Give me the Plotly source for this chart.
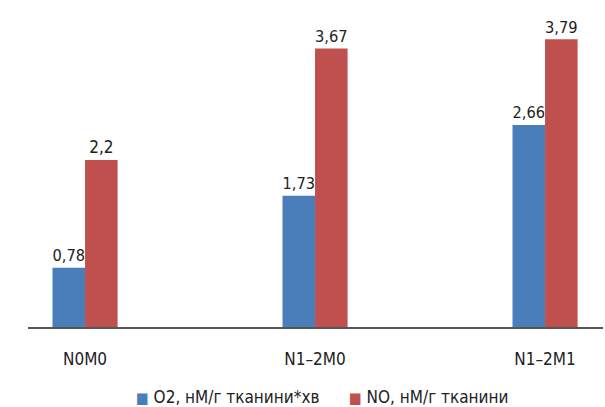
import plotly.graph_objects as go

categories = ["N0M0", "N1\u20132M0", "N1\u20132M1"]
o2_values = [0.78, 1.73, 2.66]
no_values = [2.2, 3.67, 3.79]
series_names = ["O2, нМ/г тканини*хв", "NO, нМ/г тканини"]
colors = ["#4a7ebb", "#c0504d"]

xpos = list(range(len(categories)))
font_family = "DejaVu Sans Condensed, Liberation Sans Narrow, Roboto, sans-serif"

def fmt(v):
    return f"{v:g}".replace(".", ",")

fig = go.Figure()
for vals, name, col in [(o2_values, series_names[0], colors[0]), (no_values, series_names[1], colors[1])]:
    fig.add_trace(go.Bar(x=xpos, y=vals, name=name, marker_color=col, marker_line_width=0,
                         text=[fmt(v) for v in vals], textposition="outside",
                         textfont=dict(size=17, color="#222222", family=font_family),
                         cliponaxis=False, showlegend=False))

# legend drawn as text items below the chart
legend_x = [0.185, 0.555]
for name, col, lx in zip(series_names, colors, legend_x):
    fig.add_annotation(xref="paper", yref="paper", x=lx, y=-0.218, xanchor="left", yanchor="middle",
                       showarrow=False,
                       text=f"<span style='color:{col};font-size:15px'>■</span> {name}",
                       font=dict(size=17, color="#222222", family=font_family))

fig.update_layout(
    width=605, height=407,
    margin=dict(l=28, r=2, t=7, b=80, autoexpand=False),
    paper_bgcolor="white", plot_bgcolor="white",
    barmode="group", bargap=0.717, bargroupgap=0,
    font=dict(family=font_family, size=17, color="#222222"),
    xaxis=dict(range=[-0.248, 2.252], tickmode="array", tickvals=xpos, ticktext=categories,
               showline=True, linecolor="#555555", linewidth=1.5, showgrid=False, zeroline=False,
               ticks="", ticklabelstandoff=16, tickfont=dict(size=17, color="#222222")),
    yaxis=dict(range=[0, 4.216], visible=False, showgrid=False, zeroline=False),
)
fig.write_html("out.html")
